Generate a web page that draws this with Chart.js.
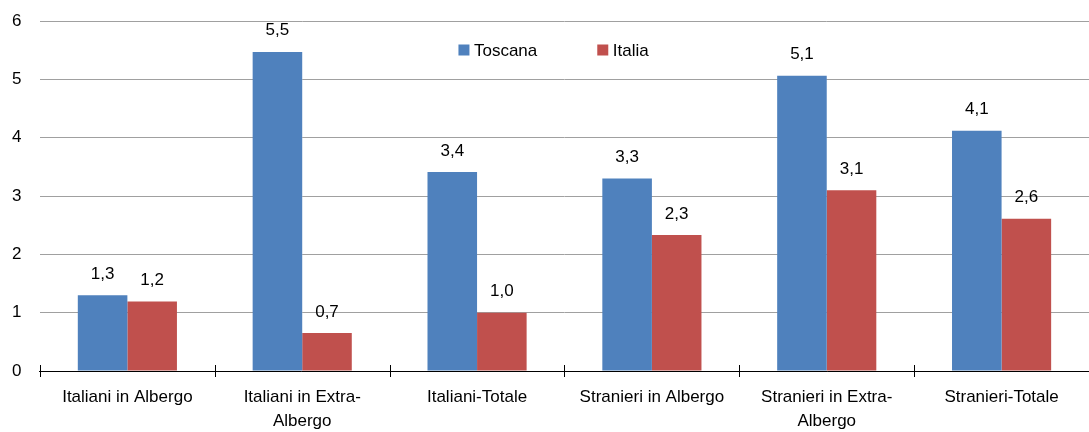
<!DOCTYPE html>
<html>
<head>
<meta charset="utf-8">
<script src="https://cdn.jsdelivr.net/npm/chart.js@4/dist/chart.umd.min.js"></script>
<style>
  html, body { margin: 0; padding: 0; background: #ffffff; }
  #wrap { width: 1089px; height: 432px; position: relative; }
</style>
</head>
<body>
<div id="wrap"><canvas id="c"></canvas></div>
<script>
const categories = [
  "Italiani in Albergo",
  ["Italiani in Extra-", "Albergo"],
  "Italiani-Totale",
  "Stranieri in Albergo",
  ["Stranieri in Extra-", "Albergo"],
  "Stranieri-Totale"
];
const seriesNames = ["Toscana", "Italia"];
const toscana = [1.3, 5.47, 3.41, 3.3, 5.06, 4.12];
const italia = [1.19, 0.65, 1.0, 2.33, 3.1, 2.61];
const yTicks = [0, 1, 2, 3, 4, 5, 6];
const colors = ["#4F81BD", "#C0504D"];

const FONT = "'Liberation Sans', Arial, sans-serif";

function fmt(v) {
  return (Math.round(v * 10) / 10).toFixed(1).replace('.', ',');
}

const valueLabels = {
  id: 'valueLabels',
  afterDatasetsDraw(chart) {
    const ctx = chart.ctx;
    ctx.save();
    ctx.font = "17px " + FONT;
    ctx.fillStyle = "#000";
    ctx.textAlign = "center";
    ctx.textBaseline = "alphabetic";
    chart.data.datasets.forEach((ds, di) => {
      const meta = chart.getDatasetMeta(di);
      meta.data.forEach((el, i) => {
        ctx.fillText(fmt(ds.data[i]), el.x, el.y - 16.5);
      });
    });
    ctx.restore();
  }
};

const crossTicks = {
  id: 'crossTicks',
  afterDraw(chart) {
    const xs = chart.scales.x;
    const ys = chart.scales.y;
    const n = chart.data.labels.length;
    const w = xs.width / n;
    const y0 = ys.getPixelForValue(0);
    const ctx = chart.ctx;
    ctx.save();
    ctx.strokeStyle = "#000";
    ctx.lineWidth = 1;
    ctx.beginPath();
    for (let i = 0; i <= n; i++) {
      const x = Math.round(xs.getPixelForValue(0) - w / 2 + i * w) + 0.5;
      ctx.moveTo(x, y0 - 6);
      ctx.lineTo(x, y0 + 6);
    }
    ctx.stroke();
    ctx.restore();
  }
};

const innerLegend = {
  id: 'innerLegend',
  afterDraw(chart) {
    const ctx = chart.ctx;
    const ca = chart.chartArea;
    ctx.save();
    ctx.font = "17px " + FONT;
    ctx.textBaseline = "middle";
    ctx.textAlign = "left";
    let x = ca.left + 418.5;
    const yc = ca.top + 29;
    chart.data.datasets.forEach((ds, i) => {
      ctx.fillStyle = ds.backgroundColor;
      ctx.fillRect(x, yc - 5.5, 11, 11);
      x += 15.5;
      ctx.fillStyle = "#000";
      ctx.fillText(ds.label, x, yc + 1);
      x += ctx.measureText(ds.label).width + 60;
    });
    ctx.restore();
  }
};

new Chart(document.getElementById('c'), {
  type: 'bar',
  data: {
    labels: categories,
    datasets: [
      { label: seriesNames[0], data: toscana, backgroundColor: colors[0], borderWidth: 0 },
      { label: seriesNames[1], data: italia, backgroundColor: colors[1], borderWidth: 0 }
    ]
  },
  options: {
    responsive: true,
    maintainAspectRatio: false,
    animation: false,
    devicePixelRatio: 1,
    layout: { autoPadding: false, padding: { left: -6.5, right: 0, top: 21, bottom: -15 } },
    datasets: { bar: { barPercentage: 1.0, categoryPercentage: 0.567 } },
    plugins: {
      legend: { display: false },
      tooltip: { enabled: false }
    },
    scales: {
      x: {
        offset: true,
        grid: { display: true, drawOnChartArea: false, drawTicks: false },
        border: { display: true, color: '#000', width: 1 },
        ticks: {
          color: '#000',
          font: { family: FONT, size: 17, lineHeight: '24px' },
          padding: 14,
          maxRotation: 0,
          autoSkip: false
        },
        afterFit(scale) { scale.paddingLeft = 0; scale.paddingRight = 0; }
      },
      y: {
        min: yTicks[0],
        max: yTicks[yTicks.length - 1],
        afterBuildTicks(scale) { scale.ticks = yTicks.map(v => ({ value: v })); },
        grid: { color: '#a0a0a0', lineWidth: 1, drawTicks: false },
        border: { display: false },
        ticks: {
          color: '#000',
          font: { family: FONT, size: 17 },
          padding: 18.5
        },
        afterFit(scale) { scale.paddingTop = 0; scale.paddingBottom = 0; }
      }
    }
  },
  plugins: [valueLabels, crossTicks, innerLegend]
});
</script>
</body>
</html>
